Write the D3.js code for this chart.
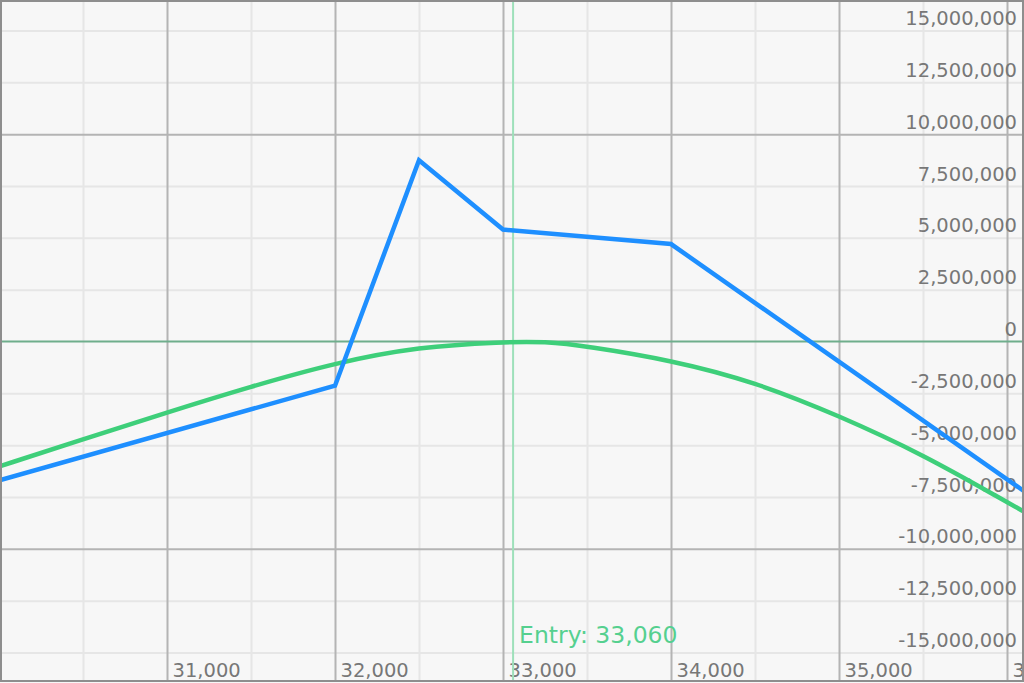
<!DOCTYPE html>
<html><head><meta charset="utf-8">
<script src="https://cdn.jsdelivr.net/npm/d3@7"></script>
<style>
html,body{margin:0;padding:0;background:#fff;}
svg{display:block;font-family:"DejaVu Sans",Verdana,sans-serif;}
</style></head>
<body><svg id="c" width="1024" height="683"></svg>
<script>
// ---- data ----
const entryPrice = 33060;
const xTickValues = [31000, 32000, 33000, 34000, 35000, 36000];
const yTickValues = [-15000000, -12500000, -10000000, -7500000, -5000000, -2500000, 0, 2500000, 5000000, 7500000, 10000000, 12500000, 15000000];
// payoff at expiry (blue)
const expiryPrices = [30000, 32000, 32500, 33000, 34000, 36100];
const expiryPnL = [-6700000, -2130000, 8740000, 5400000, 4700000, -7210000];
// current P&L curve (green)
const curvePrices = [30000, 30500, 31000, 31500, 32000, 32500, 33000, 33250, 33500, 34000, 34500, 35000, 35500, 36000, 36100];
const curvePnL = [-6030000, -4720000, -3420000, -2170000, -1030000, -250000, -20000, 0, -230000, -900000, -1950000, -3580000, -5450000, -7750000, -8200000];

const svg = d3.select("#c");
const W = 1024, H = 683;
const L = 1, T = 1, R = 1023, B = 681;

const x = d3.scaleLinear().domain([30000, 36000]).range([-1, 1007]);
const y = d3.scaleLinear().domain([-15000000, 15000000]).range([652.5, 30.5]);
const locale = d3.formatLocale({decimal: ".", thousands: ",", grouping: [3], currency: ["", ""], minus: "-"});
const fmt = locale.format(",");

svg.append("rect").attr("x",0).attr("y",0).attr("width",W).attr("height",H).attr("fill","#f7f7f7");

svg.append("defs").append("clipPath").attr("id","plot")
  .append("rect").attr("x",L).attr("y",T).attr("width",R-L).attr("height",B-T);

const g = svg.append("g").attr("clip-path","url(#plot)");

// minor vertical grid
const xMinor = d3.range(30000, 36600, 500);
g.append("g").attr("transform",`translate(0,${B})`)
  .call(d3.axisBottom(x).tickValues(xMinor.filter(v=>v%1000!==0)).tickSize(-(B-T)).tickFormat(""))
  .call(s=>{s.select(".domain").remove(); s.selectAll("line").attr("stroke","#e6e6e6").attr("stroke-width",2);});
// minor horizontal grid
g.append("g").attr("transform",`translate(${L},0)`)
  .call(d3.axisLeft(y).tickValues(yTickValues.filter(v=>v%10000000!==0)).tickSize(-(R-L)).tickFormat(""))
  .call(s=>{s.select(".domain").remove(); s.selectAll("line").attr("stroke","#e6e6e6").attr("stroke-width",2);});
// major vertical grid
g.append("g").attr("transform",`translate(0,${B})`)
  .call(d3.axisBottom(x).tickValues(xMinor.filter(v=>v%1000===0)).tickSize(-(B-T)).tickFormat(""))
  .call(s=>{s.select(".domain").remove(); s.selectAll("line").attr("stroke","#b4b4b4").attr("stroke-width",2);});
// major horizontal grid
g.append("g").attr("transform",`translate(${L},0)`)
  .call(d3.axisLeft(y).tickValues([-10000000, 10000000]).tickSize(-(R-L)).tickFormat(""))
  .call(s=>{s.select(".domain").remove(); s.selectAll("line").attr("stroke","#b4b4b4").attr("stroke-width",2);});

// y labels
g.append("g").attr("transform","translate(1017,0)")
  .call(d3.axisLeft(y).tickValues(yTickValues).tickSize(0).tickPadding(0).tickFormat(fmt))
  .call(s=>{s.select(".domain").remove();
    s.selectAll("text").attr("font-size",19.5).attr("fill","#777").attr("font-family","DejaVu Sans").attr("dy","-0.3em");});
// x labels
g.append("g").attr("transform",`translate(0,677)`)
  .call(d3.axisBottom(x).tickValues(xTickValues).tickSize(0).tickPadding(0).tickFormat(fmt))
  .call(s=>{s.select(".domain").remove();
    s.selectAll("text").attr("font-size",19.5).attr("fill","#777").attr("font-family","DejaVu Sans")
      .attr("text-anchor","start").attr("x",5).attr("dy",0).attr("y",0);});

// zero line
g.append("line").attr("x1",L).attr("x2",R).attr("y1",y(0)).attr("y2",y(0))
  .attr("stroke","#6fae8c").attr("stroke-width",2);
// entry line
g.append("line").attr("x1",x(entryPrice)).attr("x2",x(entryPrice)).attr("y1",T).attr("y2",B)
  .attr("stroke","#9ee0ba").attr("stroke-width",2);

// green curve
const curveData = curvePrices.map((p,i)=>[p,curvePnL[i]]);
g.append("path").datum(curveData)
  .attr("d", d3.line().x(d=>x(d[0])).y(d=>y(d[1])).curve(d3.curveBasis))
  .attr("fill","none").attr("stroke","#3ecf7a").attr("stroke-width",4.5).attr("stroke-linejoin","round");
// blue expiry line
const expData = expiryPrices.map((p,i)=>[p,expiryPnL[i]]);
g.append("path").datum(expData)
  .attr("d", d3.line().x(d=>x(d[0])).y(d=>y(d[1])))
  .attr("fill","none").attr("stroke","#1e8fff").attr("stroke-width",4.5).attr("stroke-linejoin","miter");

// entry label
g.append("text").attr("x",x(entryPrice)+6).attr("y",643)
  .attr("font-size",23.5).attr("fill","#55d08f").attr("font-family","DejaVu Sans")
  .text("Entry: " + fmt(entryPrice));

// border
svg.append("rect").attr("x",L).attr("y",T).attr("width",R-L).attr("height",B-T)
  .attr("fill","none").attr("stroke","#8e8e8e").attr("stroke-width",2);
</script></body></html>
